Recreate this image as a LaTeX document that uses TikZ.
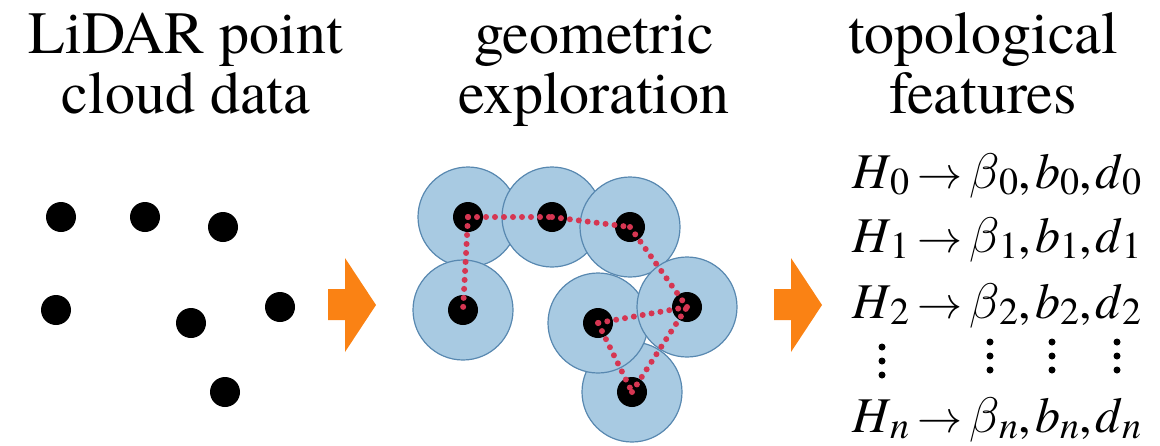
\RequirePackage{fix-cm}
\documentclass[tikz,border=0pt]{standalone}
\usepackage{fontspec}
\setmainfont{texgyretermes}[Extension=.otf, UprightFont=*-regular, ItalicFont=*-italic, BoldFont=*-bold, BoldItalicFont=*-bolditalic]
\usepackage{xcolor}
\usetikzlibrary{positioning}

\definecolor{ballblue}{RGB}{168,202,226}
\definecolor{balledge}{RGB}{88,136,176}
\definecolor{linkred}{RGB}{214,54,82}
\definecolor{arrorange}{RGB}{250,130,20}

\newcommand{\featsub}[1]{\raisebox{-6pt}{\fontsize{38}{38}\selectfont #1}}
\newcommand{\featarr}{{\fontsize{45}{45}\selectfont$\rightarrow$}}
\newcommand{\featrow}[1]{\textit{H}\featsub{#1}\hspace{8pt}\featarr\hspace{7pt}$\beta$\featsub{#1},\hspace{4pt}\textit{b}\featsub{#1},\hspace{4pt}\textit{d}\featsub{#1}}

\begin{document}
\begin{tikzpicture}[
  x=1pt, y=-1pt,
  title/.style={font=\fontsize{60}{60}\selectfont, align=center, anchor=base, inner sep=0pt},
  feat/.style={font=\fontsize{50}{50}\selectfont, anchor=base west, inner sep=0pt},
  cloudpt/.style={circle, fill=black, minimum size=30pt, inner sep=0pt},
  ball/.style={circle, fill=ballblue, draw=balledge, line width=1.2pt, minimum size=100pt, inner sep=0pt},
  link/.style={draw=linkred, line width=6pt, line cap=round, dash pattern=on 0pt off 9pt},
  blockarr/.style={fill=arrorange}
]
\useasboundingbox (0,0) rectangle (1160,445);

% titles
\node[title] (t1) at (186,113) {LiDAR point\\cloud data};
\node[title] (t2) at (594,113) {geometric\\exploration};
\node[title] (t3) at (983,113) {topological\\features};

% raw point cloud
\foreach \n/\x/\y in {1/61/217, 2/145/217, 3/223/227, 4/56/310, 5/191/323, 6/280/307, 7/225/392}
  \node[cloudpt] (p\n) at (\x,\y) {};

% balls round the same points
\foreach \n/\x/\y in {1/61/217, 2/145/217, 3/223/227, 4/56/310, 7/225/392, 5/191/323, 6/280/307}
  \node[ball] (b\n) at (\x+407,\y) {};
\foreach \n in {1,...,7}
  \node[cloudpt] (c\n) at (b\n) {};
\foreach \a/\b in {1/2, 2/3, 1/4, 3/6, 6/5, 5/7, 7/6}
  \draw[link] (c\a.center) -- (c\b.center);

% block arrows
\foreach \s in {328, 774}
  \fill[blockarr] (\s,289) -- (\s+17,289) -- (\s+17,258) -- (\s+48,305)
    -- (\s+17,352) -- (\s+17,320) -- (\s,320) -- cycle;

% topological features
\node[feat] (f0) at (852,188) {\featrow{0}};
\node[feat] (f1) at (852,252) {\featrow{1}};
\node[feat] (f2) at (852,318) {\featrow{2}};
\node[feat] (fn) at (852,432) {\featrow{\textit{n}}};
\foreach \x/\y in {882/347, 990/342, 1052/342, 1117/342}
  \foreach \k in {0,1,2}
    \fill (\x,\y+14*\k) circle (3.5pt);
\end{tikzpicture}
\end{document}
